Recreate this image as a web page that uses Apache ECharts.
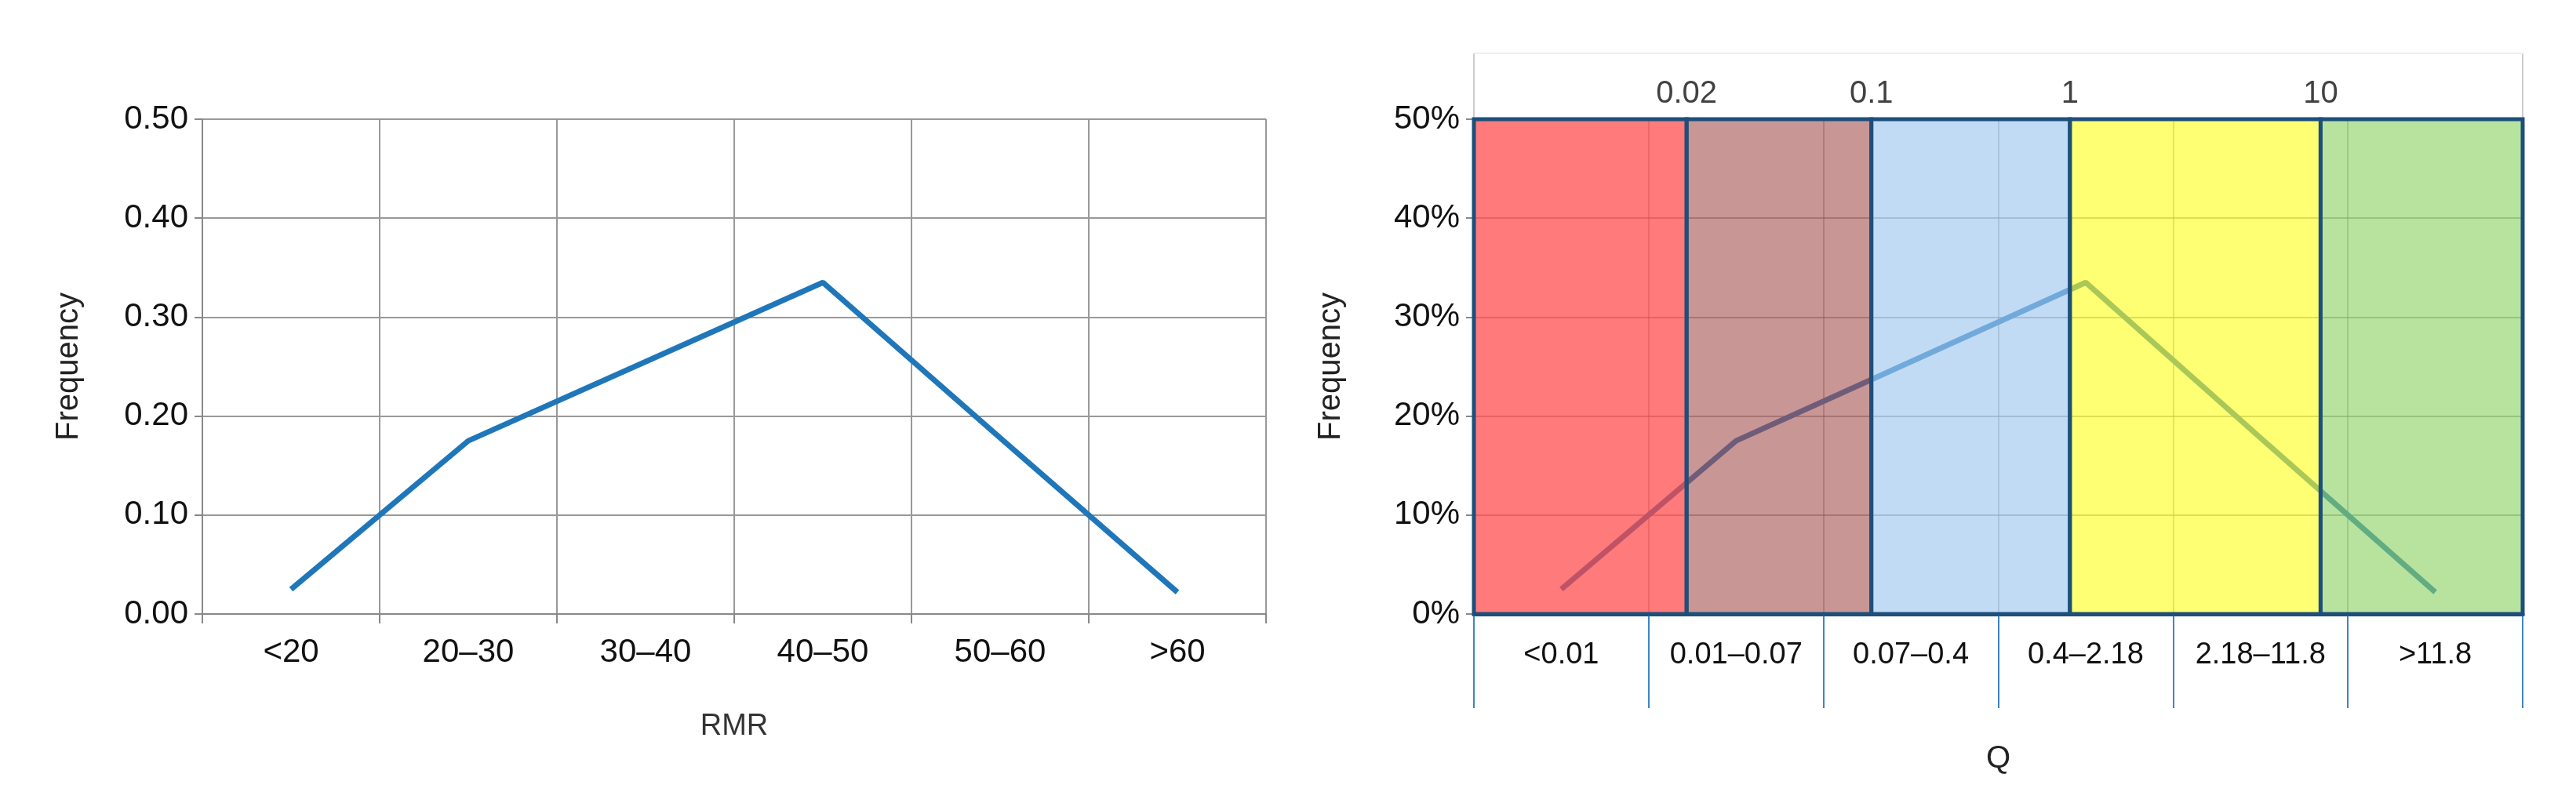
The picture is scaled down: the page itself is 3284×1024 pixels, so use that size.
<!DOCTYPE html>
<html><head><meta charset="utf-8">
<script src="https://cdn.jsdelivr.net/npm/echarts@6/dist/echarts.min.js"></script>
<style>html,body{margin:0;background:#fff}#c{width:3284px;height:1024px}</style>
</head><body><div id="c"></div>
<script>
const rmrCategories = ['<20','20\u201330','30\u201340','40\u201350','50\u201360','>60'];
const qCategories = ['<0.01','0.01\u20130.07','0.07\u20130.4','0.4\u20132.18','2.18\u201311.8','>11.8'];
const frequency = [0.025, 0.175, 0.255, 0.335, 0.178, 0.022];
const qBoundaryLabels = ['0.02','0.1','1','10'];
const qBoundaryPos = [1.217, 2.274, 3.41, 4.844]; // position in category units on the bottom axis
const bandColors = ['rgba(255,70,70,0.72)','rgba(165,80,80,0.6)','rgba(160,200,240,0.65)','rgba(255,255,30,0.62)','rgba(140,210,100,0.62)'];
const font = "'Liberation Sans Narrow','Liberation Sans',Arial,sans-serif";

const edges = [0, ...qBoundaryPos, 6];
const bands = [];
for (let i = 0; i < 5; i++) bands.push([
  {xAxis: edges[i], yAxis: 0, itemStyle: {color: bandColors[i], borderColor: '#1d4f7a', borderWidth: 5}},
  {xAxis: edges[i+1], yAxis: 0.5}
]);

const chart = echarts.init(document.getElementById('c'));
chart.setOption({
  animation: false,
  grid: [
    {left: 258, right: 1670, top: 152, bottom: 241},
    {left: 1879, right: 68, top: 152, bottom: 241}
  ],
  xAxis: [
    {gridIndex: 0, type: 'category', data: rmrCategories, boundaryGap: true,
     name: 'RMR', nameLocation: 'middle', nameGap: 125,
     nameTextStyle: {fontFamily: font, fontSize: 38, color: '#333'},
     axisLine: {lineStyle: {color: '#888', width: 2}},
     axisTick: {show: true, length: 12, lineStyle: {color: '#888', width: 2}},
     axisLabel: {fontFamily: font, fontSize: 42, color: '#111', margin: 28},
     splitLine: {show: true, lineStyle: {color: '#999', width: 2}}},
    {gridIndex: 1, type: 'category', data: qCategories, boundaryGap: true,
     name: 'Q', nameLocation: 'middle', nameGap: 165,
     nameTextStyle: {fontFamily: font, fontSize: 40, color: '#222'},
     axisLine: {lineStyle: {color: '#1d4f7a', width: 5}},
     axisTick: {show: true, interval: 0, length: 120, lineStyle: {color: '#3d85c6', width: 2}},
     axisLabel: {fontFamily: font, fontSize: 38, color: '#111', margin: 34},
     splitLine: {show: true, interval: 0, lineStyle: {color: 'rgba(90,90,90,0.4)', width: 2}}},
    {gridIndex: 1, type: 'value', min: 0, max: 6, show: false}
  ],
  yAxis: [
    {gridIndex: 0, type: 'value', min: 0, max: 0.5, interval: 0.1,
     name: 'Frequency', nameLocation: 'middle', nameGap: 150, nameRotate: 90,
     nameTextStyle: {fontFamily: font, fontSize: 40, color: '#222'},
     axisLine: {show: true, lineStyle: {color: '#888', width: 2}},
     axisTick: {show: true, length: 10, lineStyle: {color: '#888', width: 2}},
     axisLabel: {fontFamily: font, fontSize: 42, color: '#111', margin: 18, formatter: v => v.toFixed(2)},
     splitLine: {lineStyle: {color: '#999', width: 2}}},
    {gridIndex: 1, type: 'value', min: 0, max: 0.5, interval: 0.1,
     name: 'Frequency', nameLocation: 'middle', nameGap: 162, nameRotate: 90,
     nameTextStyle: {fontFamily: font, fontSize: 40, color: '#222'},
     axisLine: {show: true, lineStyle: {color: '#888', width: 2}},
     axisTick: {show: true, length: 10, lineStyle: {color: '#888', width: 2}},
     axisLabel: {fontFamily: font, fontSize: 42, color: '#111', margin: 18, formatter: v => Math.round(v*100) + '%'},
     splitLine: {lineStyle: {color: 'rgba(90,90,90,0.5)', width: 2}}}
  ],
  series: [
    {type: 'line', xAxisIndex: 0, yAxisIndex: 0, data: frequency, symbol: 'none',
     lineStyle: {color: '#1f77b9', width: 7}},
    {type: 'line', xAxisIndex: 1, yAxisIndex: 1, data: frequency, symbol: 'none', z: 2,
     lineStyle: {color: '#1f6fb4', width: 7}},
    {type: 'scatter', xAxisIndex: 2, yAxisIndex: 1, z: 5, symbolSize: 0,
     data: qBoundaryPos.map((p, i) => ({value: [p, 0.5], label: {formatter: qBoundaryLabels[i]}})),
     label: {show: true, position: 'top', distance: 12, fontFamily: font, fontSize: 40, color: '#111'},
     markArea: {silent: true, z: 4, data: bands}}
  ],
  graphic: [
    {type: 'line', shape: {x1: 1879, y1: 68, x2: 1879, y2: 152}, style: {stroke: '#ccc', lineWidth: 2}},
    {type: 'line', shape: {x1: 3216, y1: 68, x2: 3216, y2: 152}, style: {stroke: '#ccc', lineWidth: 2}},
    {type: 'line', shape: {x1: 1879, y1: 68, x2: 3216, y2: 68}, style: {stroke: '#eee', lineWidth: 2}}
  ]
});
</script></body></html>
